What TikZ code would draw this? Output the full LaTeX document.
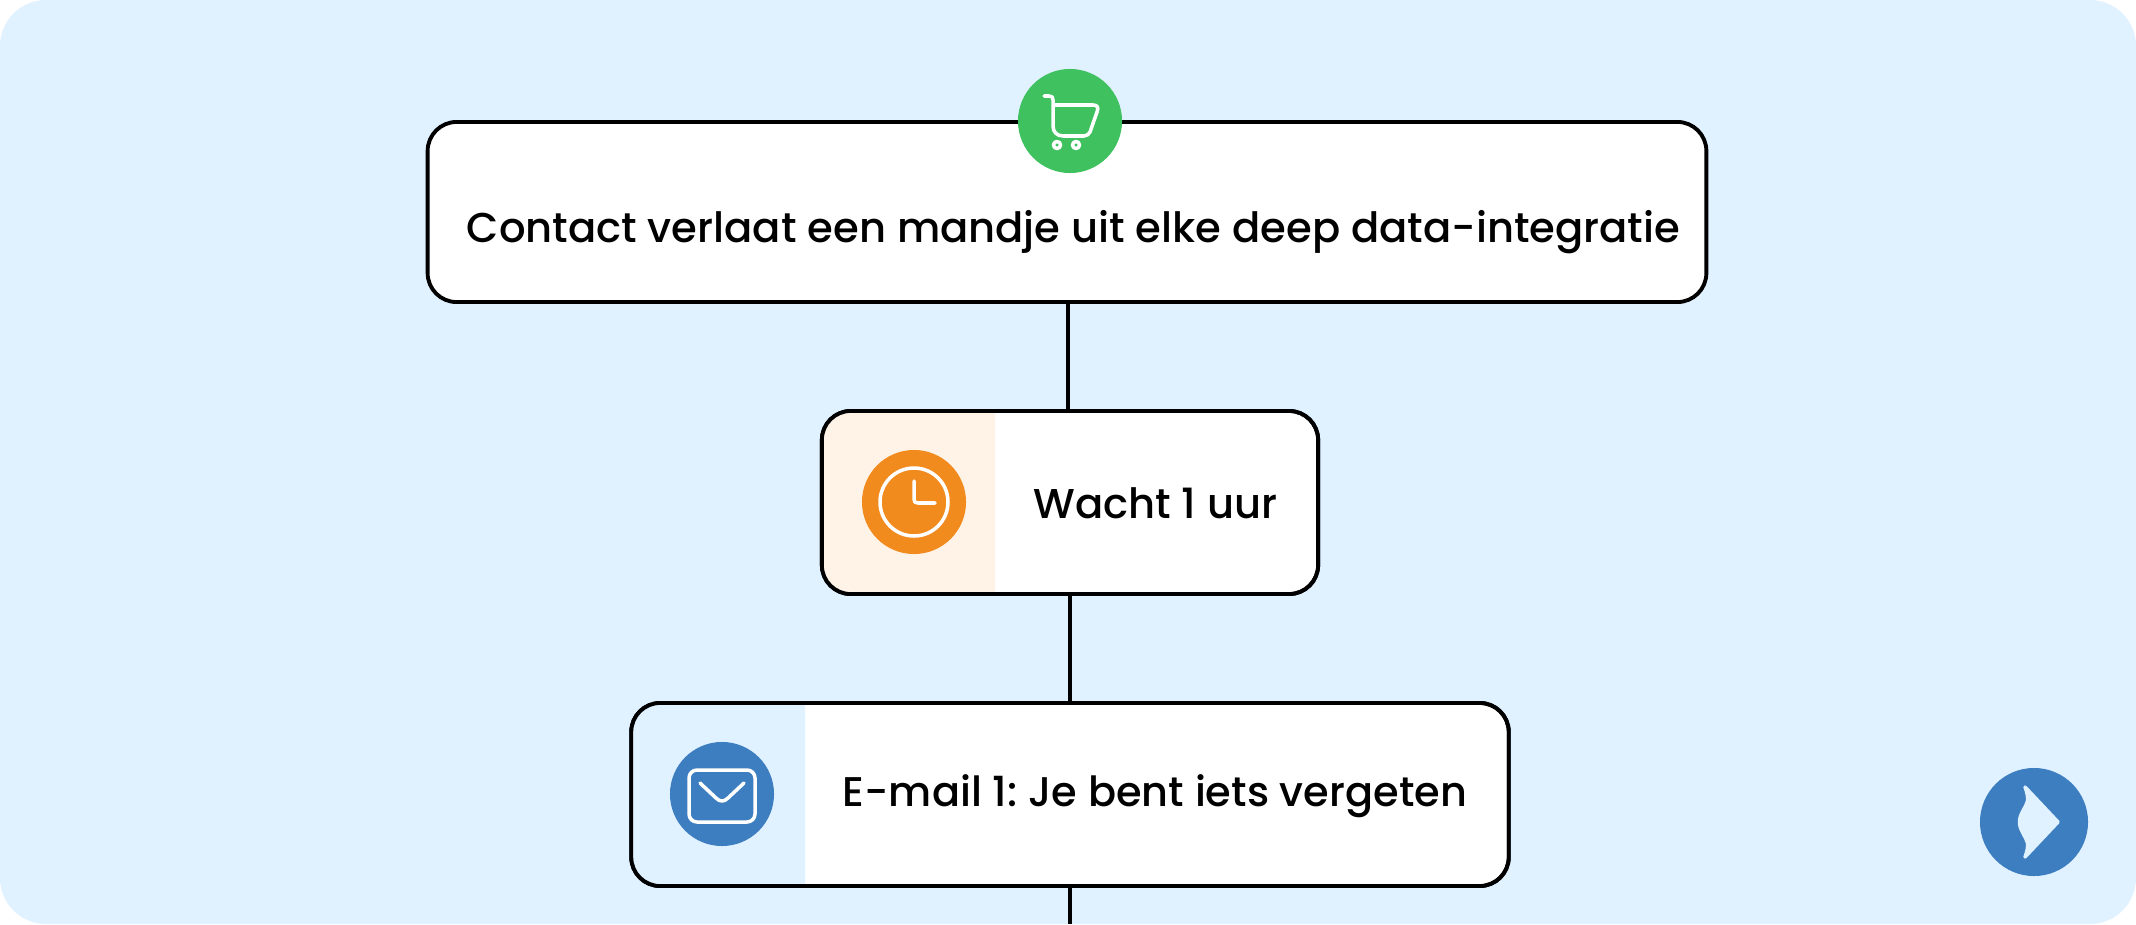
\documentclass[tikz,border=0pt]{standalone}
\usepackage{fontspec}
\setmainfont{Poppins Medium}
\frenchspacing
\definecolor{achtergrond}{HTML}{E0F1FF}
\definecolor{groen}{HTML}{3FC15F}
\definecolor{oranje}{HTML}{F28B1E}
\definecolor{lichtoranje}{HTML}{FFF3E8}
\definecolor{blauw}{HTML}{3D7EC1}
\tikzset{
  blok/.style={draw=black, fill=white, line width=1.1pt, rounded corners=0.29cm, inner sep=0pt},
  tekst/.style={font=\fontsize{11.86}{14}\selectfont},
  rondje/.style={circle, minimum size=1.04cm, inner sep=0pt},
  icoon/.style={draw=white, line width=1pt, line cap=round, line join=round},
  lijn/.style={draw=black, line width=1.1pt}
}
\begin{document}
\begin{tikzpicture}[x=0.01cm, y=-0.01cm]
\useasboundingbox (0,0) rectangle (2136,924);
% Achtergrond
\fill[achtergrond, rounded corners=0.46cm] (0,0) rectangle (2136,924);
% Blokken
\node[blok, minimum width=12.78cm, minimum height=1.8cm] (contact) at (1067,212) {};
\node[blok, minimum width=4.96cm, minimum height=1.83cm] (wacht) at (1070,502.5) {};
\node[blok, minimum width=8.77cm, minimum height=1.83cm] (email) at (1070,794.5) {};
\coordinate (einde) at (1070,924);
% Gekleurde vlakken
\fill[lichtoranje] (995,411) [rounded corners=0.29cm] -- (822,411) -- (822,594) [sharp corners] -- (995,594) -- cycle;
\fill[achtergrond] (805,703) [rounded corners=0.29cm] -- (631,703) -- (631,886) [sharp corners] -- (805,886) -- cycle;
\node[blok, fill=none, minimum width=4.96cm, minimum height=1.83cm] at (wacht) {};
\node[blok, fill=none, minimum width=8.77cm, minimum height=1.83cm] at (email) {};
% Teksten
\node[tekst] (contacttekst) at (1073.5,232) {Contact verlaat een mandje uit elke deep data-integratie};
\node[tekst] (wachttekst) at (1155.5,503) {Wacht 1 uur};
\node[tekst, font=\fontsize{11.8}{14}\selectfont] (emailtekst) at (1155,796) {E-mail 1: Je bent iets vergeten};
% Verbindingen
\draw[lijn] ([xshift=0.01cm]contact.south) -- ([xshift=0.01cm]contact.south |- wacht.north);
\draw[lijn] (wacht.south) -- (wacht.south |- email.north);
\draw[lijn] (email.south) -- (einde);
% Winkelwagen
\node[rondje, fill=groen] (wagen) at (1070,121) {};
\draw[icoon] (1044,96) -- (1049,96) .. controls (1052,96) and (1053,97) .. (1053,100) -- (1053,126) .. controls (1053,132) and (1057,136) .. (1063,136) -- (1084,136) .. controls (1087,136) and (1089,134) .. (1090,132) -- (1097,112) .. controls (1099,107) and (1097,105) .. (1093,105) -- (1053,105);
\draw[icoon] (1057,145) circle (3.5);
\draw[icoon] (1076,145) circle (3.5);
% Klok
\node[rondje, fill=oranje] (klok) at (914,502) {};
\draw[icoon] (klok) circle (34);
\draw[icoon] (914,481) -- (914,499) .. controls (914,502) and (915,503) .. (918,503) -- (935,503);
% Envelop
\node[rondje, fill=blauw] (envelop) at (722,794) {};
\draw[icoon, rounded corners=0.08cm] (689,770) rectangle (755,822);
\draw[icoon] (700,783) -- (716,798) .. controls (720,802) and (724,802) .. (728,798) -- (744,783);
% Logo
\node[rondje, fill=blauw, minimum size=1.08cm] (logo) at (2034,822) {};
\filldraw[draw=achtergrond, fill=achtergrond, line width=1pt, line join=round] (2025,787) -- (2058,822) -- (2025,857) .. controls (2027,852) and (2028,847) .. (2027.5,843) .. controls (2026,836) and (2019.5,831) .. (2019.5,822) .. controls (2019.5,813) and (2026,808) .. (2027.5,801) .. controls (2028,797) and (2027,792) .. (2025,787) -- cycle;
\end{tikzpicture}
\end{document}
